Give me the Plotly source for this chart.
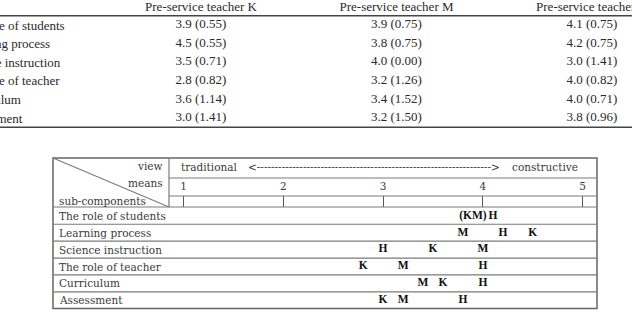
import plotly.graph_objects as go

# ---------------- data ----------------
components = ["The role of students", "Learning process", "Science instruction",
              "The role of teacher", "Curriculum", "Assessment"]
teachers = ["K", "M", "H"]
mean_K = [3.9, 4.5, 3.5, 2.8, 3.6, 3.0]
sd_K = [0.55, 0.55, 0.71, 0.82, 1.14, 1.41]
mean_M = [3.9, 3.8, 4.0, 3.2, 3.4, 3.2]
sd_M = [0.75, 0.75, 0.00, 1.26, 1.52, 1.50]
mean_H = [4.1, 4.2, 3.0, 4.0, 4.0, 3.8]
sd_H = [0.75, 0.75, 1.41, 0.82, 0.71, 0.96]
scale_ticks = [1, 2, 3, 4, 5]
header_view = ["view", "means", "sub-components"]
view_left, view_right = "traditional", "constructive"

means = {"K": mean_K, "M": mean_M, "H": mean_H}
sds = {"K": sd_K, "M": sd_M, "H": sd_H}

# ---------------- layout geometry (pixels) ----------------
W, H = 632, 312
def fx(p):  # pixel x -> paper
    return p / W
def fy(p):  # pixel y -> paper
    return 1 - p / H

UX = 99.8
X0 = 1 - 183.5 / UX
X1 = X0 + W / UX
UY = 16.9
Y0 = -215.8 / UY
Y1 = Y0 + H / UY
UX2 = 195.5
X20 = 1 - 201 / UX2
X21 = X20 + W / UX2
UY2 = 18.6
Y20 = -25 / UY2
Y21 = Y20 + H / UY2

SER = "Liberation Serif"
DIA = "DejaVu Serif"
TXT = "#2a2a2a"
DTXT = "#3a3a3a"

fig = go.Figure()

# ---- table (top) ----
for j, t in enumerate(teachers, start=1):
    fig.add_trace(go.Scatter(
        x=[j] * (len(components) + 1), y=[-0.95] + list(range(len(components))),
        text=[f"Pre-service teacher {t}"] +
             [f"{m:.1f} ({s:.2f})" for m, s in zip(means[t], sds[t])],
        mode="text", textposition="middle center",
        textfont=dict(family=SER, size=13, color=TXT),
        xaxis="x2", yaxis="y2", hoverinfo="skip", showlegend=False, cliponaxis=False))

annotations = []
for i, c in enumerate(components):
    annotations.append(dict(text=c, xref="paper", x=fx(-41), yref="y2", y=i,
                            xanchor="left", yanchor="middle", showarrow=False,
                            font=dict(family=SER, size=13, color=TXT)))

shapes = []
for yv in [-0.5, len(components) - 0.5]:
    shapes.append(dict(type="line", xref="paper", x0=0, x1=1, yref="y2", y0=yv, y1=yv,
                       line=dict(color="#444", width=1.4)))

# ---- diagram letters ----
lx, ly, lt = [], [], []
for i in range(len(components)):
    groups = {}
    for t in teachers:
        groups.setdefault(means[t][i], []).append(t)
    for v, ts in groups.items():
        lx.append(v)
        ly.append(i)
        lt.append(ts[0] if len(ts) == 1 else "(" + "".join(ts) + ")")
fig.add_trace(go.Scatter(x=lx, y=ly, text=lt, mode="text",
                         textfont=dict(family=SER, size=11.5, color="#111", weight="bold"),
                         xaxis="x", yaxis="y", hoverinfo="skip", showlegend=False))

for i, c in enumerate(components):
    annotations.append(dict(text=c, xref="paper", x=fx(57), yref="y", y=i,
                            xanchor="left", yanchor="middle", showarrow=False,
                            font=dict(family=DIA, size=10.5, color=DTXT)))

def ann(text, px, py, anchor):
    return dict(text=text, xref="paper", x=fx(px), yref="paper", y=fy(py),
                xanchor=anchor, yanchor="middle", showarrow=False,
                font=dict(family=DIA, size=10.5, color=DTXT))

annotations += [
    ann(header_view[0], 165, 166, "right"),
    ann(header_view[1], 165, 183, "right"),
    ann(header_view[2], 57, 200.5, "left"),
    ann(view_left, 179, 166.5, "left"),
    ann(view_right, 580, 166.5, "right"),
    ann("&lt;" + "-" * 66 + "&gt;", 374, 166.5, "center"),
]

LC = "#7a7a7a"
L, R, T, B = 53, 597, 158, 308.5
DIV, HB = 169, 207
def hline(x0, x1, y, w=1.2, c=LC):
    return dict(type="line", xref="paper", yref="paper", x0=fx(x0), x1=fx(x1),
                y0=fy(y), y1=fy(y), line=dict(color=c, width=w))
shapes += [
    dict(type="rect", xref="paper", yref="paper", x0=fx(L), x1=fx(R), y0=fy(T), y1=fy(B),
         line=dict(color="#666", width=1.5)),
    dict(type="line", xref="paper", yref="paper", x0=fx(DIV), x1=fx(DIV), y0=fy(T), y1=fy(HB),
         line=dict(color=LC, width=1.2)),
    hline(DIV, R, 178), hline(DIV, R, 196), hline(L, R, HB),
    dict(type="line", xref="paper", yref="paper", x0=fx(L), x1=fx(DIV), y0=fy(T), y1=fy(HB),
         line=dict(color=LC, width=1.1)),
]
for i in range(len(components) - 1):
    shapes.append(dict(type="line", xref="paper", x0=fx(L), x1=fx(R), yref="y",
                       y0=i + 0.5, y1=i + 0.5, line=dict(color=LC, width=1.2)))

fig.update_layout(
    width=W, height=H, margin=dict(l=0, r=0, t=0, b=0),
    paper_bgcolor="white", plot_bgcolor="rgba(0,0,0,0)",
    xaxis=dict(domain=[0, 1], range=[X0, X1], side="top", anchor="free",
               position=fy(HB), tickmode="array", tickvals=scale_ticks,
               ticktext=[str(v) for v in scale_ticks],
               ticks="outside", ticklen=11, tickwidth=1.2, tickcolor="#555",
               ticklabelstandoff=2,
               tickfont=dict(family=DIA, size=10.5, color=DTXT),
               showline=False, showgrid=False, zeroline=False, fixedrange=True),
    yaxis=dict(domain=[0, 1], range=[Y1, Y0], visible=False, fixedrange=True),
    xaxis2=dict(domain=[0, 1], range=[X20, X21], visible=False, anchor="y2"),
    yaxis2=dict(domain=[0, 1], range=[Y21, Y20], visible=False, anchor="x2"),
    annotations=annotations, shapes=shapes, showlegend=False,
)

fig.write_html("out.html")
